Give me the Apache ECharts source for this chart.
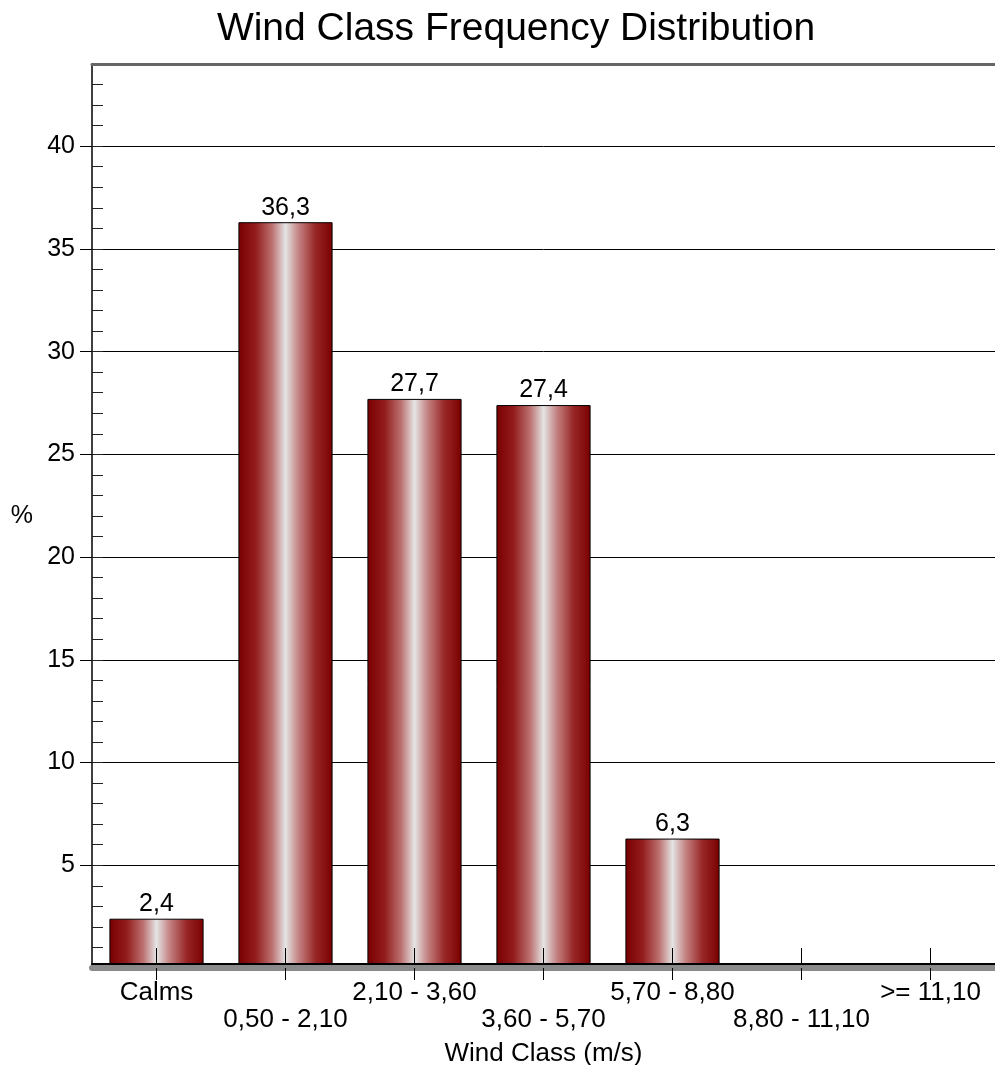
<!DOCTYPE html>
<html>
<head>
<meta charset="utf-8">
<title>Wind Class Frequency Distribution</title>
<script src="https://cdn.jsdelivr.net/npm/echarts@6/dist/echarts.min.js"></script>
<style>
  html, body { margin: 0; padding: 0; background: #fff; }
  #chart { width: 995px; height: 1065px; }
</style>
</head>
<body>
<div id="chart"></div>
<script>
// Wind speed classes (m/s) and their frequency of occurrence (%)
const categories = ['Calms', '0,50 - 2,10', '2,10 - 3,60', '3,60 - 5,70', '5,70 - 8,80', '8,80 - 11,10', '>= 11,10'];
const frequencies = [2.4, 36.3, 27.7, 27.4, 6.3, 0, 0];
const yTickValues = [5, 10, 15, 20, 25, 30, 35, 40];
const yMax = 44;

const FONT = '"Liberation Sans", Arial, sans-serif';
const decimalComma = v => v.toFixed(1).replace('.', ',');

// Maroon edges fading into a pale grey highlight down the middle of each bar
const barFill = new echarts.graphic.LinearGradient(0, 0, 1, 0, [
  { offset: 0, color: '#7a0000' },
  { offset: 0.18, color: '#921b1b' },
  { offset: 0.36, color: '#bd7272' },
  { offset: 0.5, color: '#e4e4e4' },
  { offset: 0.64, color: '#c48282' },
  { offset: 0.82, color: '#982626' },
  { offset: 1, color: '#7a0000' }
]);

const chart = echarts.init(document.getElementById('chart'), null, { renderer: 'canvas' });

chart.setOption({
  animation: false,
  backgroundColor: '#ffffff',
  textStyle: { fontFamily: FONT },
  title: {
    text: 'Wind Class Frequency Distribution',
    left: 511,
    top: 5,
    textAlign: 'center',
    textStyle: { fontFamily: FONT, fontSize: 39, fontWeight: 'normal', color: '#000' }
  },
  grid: {
    left: 92, right: 0, top: 64, bottom: 97,
    containLabel: false,
    outerBoundsMode: 'none'
  },
  xAxis: [
    {
      // floor shadow, outer ticks, alternating labels and axis title
      type: 'category',
      data: categories,
      position: 'bottom',
      z: 10,
      axisLine: { show: true, onZero: false, lineStyle: { color: '#8a8a8a', width: 6 } },
      axisTick: { show: true, interval: 0, alignWithLabel: true, length: 12, lineStyle: { color: '#000', width: 1 } },
      axisLabel: {
        interval: 0,
        margin: 11,
        fontFamily: FONT,
        fontSize: 26,
        lineHeight: 27,
        color: '#000',
        formatter: (value, index) => (index % 2 ? '\n' + value : value)
      },
      name: 'Wind Class (m/s)',
      nameLocation: 'middle',
      nameGap: 73,
      nameTextStyle: { fontFamily: FONT, fontSize: 26, color: '#000' }
    },
    {
      // black base line with ticks reaching up into the bars
      type: 'category',
      data: categories,
      position: 'bottom',
      offset: -4,
      z: 11,
      axisLine: { show: true, onZero: false, lineStyle: { color: '#000', width: 2 } },
      axisTick: { show: true, interval: 0, alignWithLabel: true, inside: true, length: 16, lineStyle: { color: '#000', width: 1 } },
      axisLabel: { show: false }
    },
    {
      // frame along the top of the plot
      type: 'category',
      data: categories,
      position: 'top',
      z: 11,
      axisLine: { show: true, onZero: false, lineStyle: { color: '#666', width: 3 } },
      axisTick: { show: false },
      axisLabel: { show: false }
    }
  ],
  yAxis: [
    {
      type: 'value',
      min: 0,
      max: yMax,
      interval: 5,
      position: 'left',
      axisLine: { show: true, lineStyle: { color: '#000', width: 1.5 } },
      axisTick: { show: true, length: 12, customValues: yTickValues, lineStyle: { color: '#000', width: 1 } },
      axisLabel: {
        customValues: yTickValues,
        margin: 17,
        fontFamily: FONT,
        fontSize: 25,
        color: '#000'
      },
      splitLine: { show: true, lineStyle: { color: '#000', width: 1 } },
      name: '%',
      nameLocation: 'middle',
      nameRotate: 0,
      nameGap: 59,
      nameTextStyle: { fontFamily: FONT, fontSize: 25, color: '#000' }
    },
    {
      // unit ticks on the inner side of the value axis
      type: 'value',
      min: 0,
      max: yMax,
      interval: 1,
      position: 'left',
      axisLine: { show: false },
      axisTick: { show: true, inside: true, length: 11, lineStyle: { color: '#222', width: 1 } },
      axisLabel: { show: false },
      splitLine: { show: false }
    }
  ],
  series: [
    {
      type: 'bar',
      xAxisIndex: 0,
      yAxisIndex: 0,
      data: frequencies,
      barWidth: '73%',
      itemStyle: { color: barFill, borderColor: '#000', borderWidth: 1 },
      label: {
        show: true,
        position: 'top',
        distance: 2,
        fontFamily: FONT,
        fontSize: 25,
        color: '#000',
        formatter: p => (p.value > 0 ? decimalComma(p.value) : '')
      }
    }
  ]
});
</script>
</body>
</html>
